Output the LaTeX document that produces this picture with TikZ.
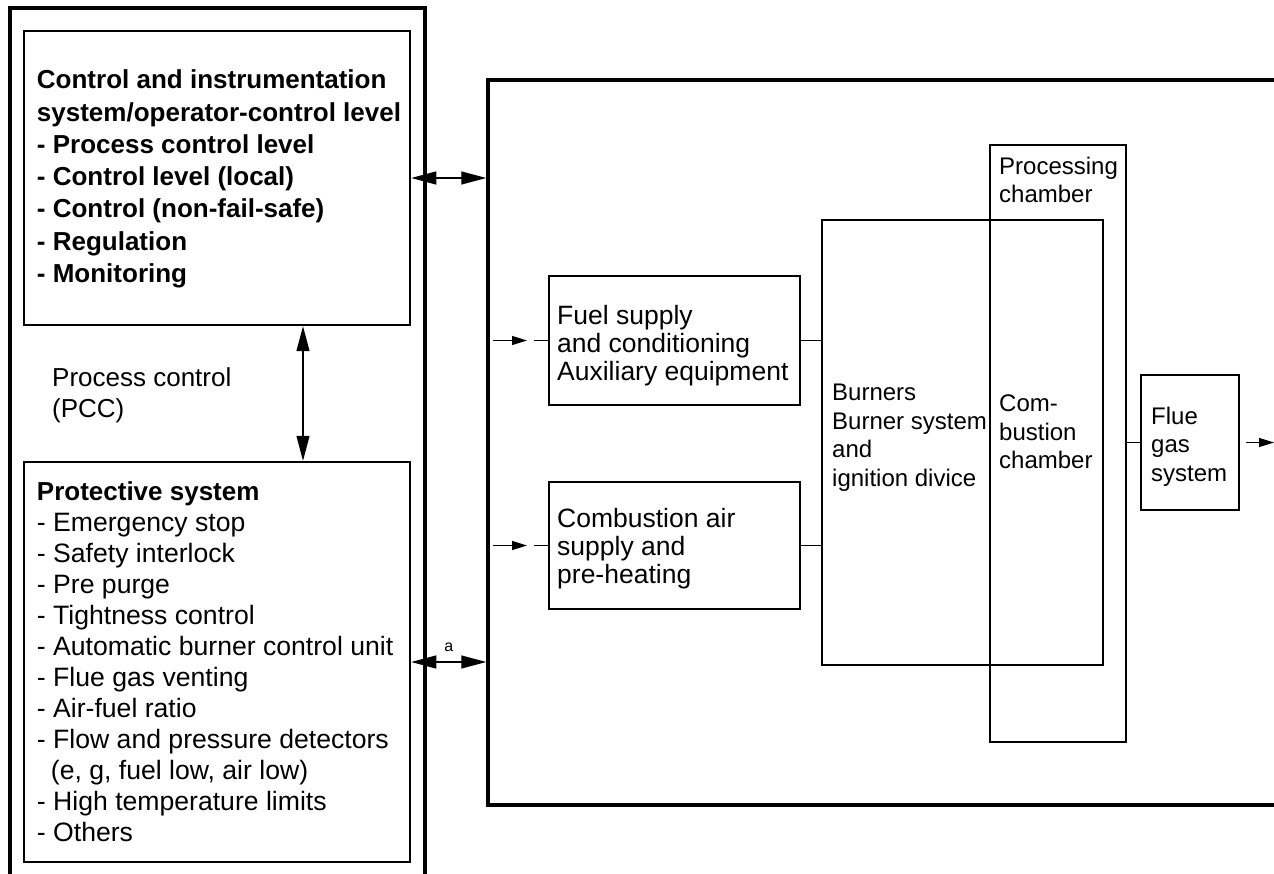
\documentclass[tikz,border=0pt]{standalone}
\usepackage{fontspec}
\setmainfont{Liberation Sans}
\usetikzlibrary{arrows.meta, positioning}
\tikzset{
  frame/.style={draw, line width=3.5pt, inner sep=0pt},
  panel/.style={draw, line width=2.5pt, inner sep=0pt},
  unit/.style={draw, line width=2pt, inner sep=0pt},
  link/.style={line width=1.3pt},
  lefttext/.style={align=left, anchor=west, inner sep=0pt, font=\fontsize{26}{31}\selectfont},
  righttext/.style={align=left, anchor=west, inner sep=0pt, font=\fontsize{24}{28.5}\selectfont},
  bigarrow/.style={link, {Triangle[length=25pt,width=13pt]}-{Triangle[length=25pt,width=13pt]}},
  smallarrow/.style={link, -{Triangle[length=15pt,width=9pt]}},
}
\begin{document}
\begin{tikzpicture}[x=1pt, y=-1pt]
    \useasboundingbox (0,0) rectangle (1274,874);

    % outer frames (open at the picture edges)
    \node[frame, minimum width=415, minimum height=892] (leftframe) at (217.5,454) {};
    \node[frame, minimum width=832, minimum height=725] (plant) at (904,442.5) {};

    % left side
    \node[panel, minimum width=386, minimum height=294] (ctrl) at (217,178) {};
    \node[panel, minimum width=386, minimum height=400] (prot) at (217,662) {};

    \node[lefttext, font=\fontsize{26}{32.3}\selectfont\bfseries] (ctrltext) at ([xshift=14pt,yshift=-1pt]ctrl.west)
      {Control and instrumentation\\system/operator-control level\\- Process control level\\- Control level (local)\\- Control (non-fail-safe)\\- Regulation\\- Monitoring};
    \node[lefttext] (pcctext) at (52,395) {Process control\\(PCC)};
    \node[lefttext, font=\fontsize{26.6}{31}\selectfont] (prottext) at ([xshift=14pt]prot.west)
      {{\fontsize{26}{31}\selectfont\bfseries Protective system}\\- Emergency stop\\- Safety interlock\\- Pre purge\\- Tightness control\\- Automatic burner control unit\\- Flue gas venting\\- Air-fuel ratio\\- Flow and pressure detectors\\\hspace*{14pt}(e, g, fuel low, air low)\\- High temperature limits\\- Others};

    % plant
    \node[unit, minimum width=251, minimum height=129] (fuel) at (674.5,340.5) {};
    \node[unit, minimum width=251, minimum height=127] (air) at (674.5,545.5) {};
    \node[unit, minimum width=281, minimum height=445] (burner) at (962.5,442.5) {};
    \node[unit, minimum width=136, minimum height=597] (chamber) at (1058,443.5) {};
    \node[unit, minimum width=98, minimum height=135] (flue) at (1190,442.5) {};

    \node[righttext, font=\fontsize{26.5}{28}\selectfont] (fueltext) at ([xshift=9pt,yshift=-5pt]fuel.west) {Fuel supply\\and conditioning\\Auxiliary equipment};
    \node[righttext, font=\fontsize{26.5}{28}\selectfont] (airtext) at ([xshift=9pt,yshift=-3pt]air.west) {Combustion air\\supply and\\pre-heating};
    \node[righttext] (burnertext) at ([xshift=11pt,yshift=5pt]burner.west) {Burners\\Burner system\\and\\ignition divice};
    \node[righttext] (combtext) at (999,432) {Com-\\bustion\\chamber};
    \node[righttext] (proctext) at (999,180) {Processing\\chamber};
    \node[righttext] (fluetext) at ([xshift=11pt,yshift=-4pt]flue.west) {Flue\\gas\\system};

    % connectors
    \draw[bigarrow] (ctrl.east) -- (ctrl.east -| plant.west);
    \draw[bigarrow] (prot.east) -- (prot.east -| plant.west)
        node[midway, above=6pt, font=\fontsize{16}{18}\selectfont] (alabel) {a};
    \draw[bigarrow] ([xshift=86pt]ctrl.south) -- ([xshift=86pt]prot.north);

    \draw[smallarrow] ([xshift=7pt]plant.west |- fuel.west) -- ([xshift=-21pt]fuel.west);
    \draw[link] ([xshift=-14pt]fuel.west) -- (fuel.west);
    \draw[smallarrow] ([xshift=7pt]plant.west |- air.west) -- ([xshift=-21pt]air.west);
    \draw[link] ([xshift=-14pt]air.west) -- (air.west);

    \draw[link] (fuel.east) -- (fuel.east -| burner.west);
    \draw[link] (air.east) -- (air.east -| burner.west);
    \draw[link] (flue.west -| chamber.east) -- (flue.west);

    \coordinate (fluetip) at (1274,442.5);
    \draw[smallarrow] ([xshift=6pt]flue.east) -- (fluetip);
\end{tikzpicture}
\end{document}
